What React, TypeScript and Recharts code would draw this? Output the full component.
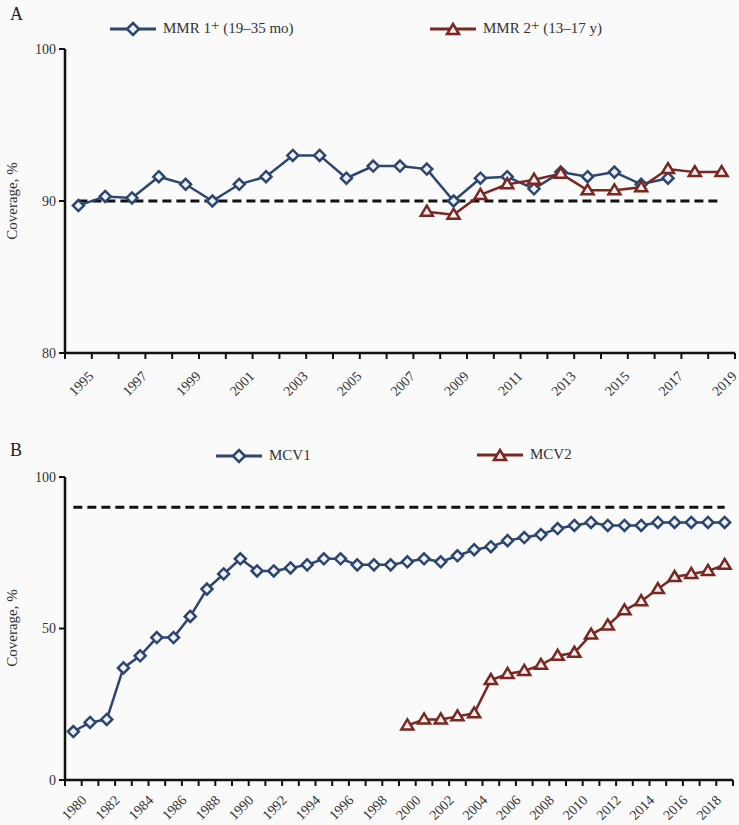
import React from "react";
import { LineChart, Line, XAxis, YAxis, ReferenceLine } from "recharts";

const NAVY = "#2c4571";
const RED = "#7a2621";
const FONT = "'Liberation Serif', 'Times New Roman', serif";

// Panel A: MMR coverage, 1995-2019
const yearsA = [
  "1995", "1996", "1997", "1998", "1999", "2000", "2001", "2002", "2003", "2004",
  "2005", "2006", "2007", "2008", "2009", "2010", "2011", "2012", "2013", "2014",
  "2015", "2016", "2017", "2018", "2019",
];
const mmr1 = [
  89.7, 90.3, 90.2, 91.6, 91.1, 90.0, 91.1, 91.6, 93.0, 93.0,
  91.5, 92.3, 92.3, 92.1, 90.0, 91.5, 91.6, 90.8, 91.9, 91.6,
  91.9, 91.1, 91.5, null, null,
];
const mmr2 = [
  null, null, null, null, null, null, null, null, null, null,
  null, null, null, 89.3, 89.1, 90.4, 91.1, 91.4, 91.8, 90.7,
  90.7, 90.9, 92.1, 91.9, 91.9,
];
const ticksA = [80, 90, 100];

// Panel B: MCV coverage, 1980-2019
const yearsB = [
  "1980", "1981", "1982", "1983", "1984", "1985", "1986", "1987", "1988", "1989",
  "1990", "1991", "1992", "1993", "1994", "1995", "1996", "1997", "1998", "1999",
  "2000", "2001", "2002", "2003", "2004", "2005", "2006", "2007", "2008", "2009",
  "2010", "2011", "2012", "2013", "2014", "2015", "2016", "2017", "2018", "2019",
];
const mcv1 = [
  16, 19, 20, 37, 41, 47, 47, 54, 63, 68,
  73, 69, 69, 70, 71, 73, 73, 71, 71, 71,
  72, 73, 72, 74, 76, 77, 79, 80, 81, 83,
  84, 85, 84, 84, 84, 85, 85, 85, 85, 85,
];
const mcv2 = [
  null, null, null, null, null, null, null, null, null, null,
  null, null, null, null, null, null, null, null, null, null,
  18, 20, 20, 21, 22, 33, 35, 36, 38, 41,
  42, 48, 51, 56, 59, 63, 67, 68, 69, 71,
];
const ticksB = [0, 50, 100];
const GOAL = 90;

const dataA = yearsA.map((year, i) => ({ year, mmr1: mmr1[i], mmr2: mmr2[i] }));
const dataB = yearsB.map((year, i) => ({ year, mcv1: mcv1[i], mcv2: mcv2[i] }));

const W = 739;
const BW_A = 670 / yearsA.length;
const BW_B = 668 / yearsB.length;

const Diamond = (props: any) => {
  const { cx, cy, value } = props;
  if (cx == null || cy == null || value == null) return <g />;
  const r = 5.5;
  return (
    <path
      d={`M${cx},${cy - r}L${cx + r},${cy}L${cx},${cy + r}L${cx - r},${cy}Z`}
      fill="#eef1f6"
      stroke={NAVY}
      strokeWidth={2.5}
    />
  );
};

const Triangle = (props: any) => {
  const { cx, cy, value } = props;
  if (cx == null || cy == null || value == null) return <g />;
  return (
    <path
      d={`M${cx},${cy - 6}L${cx + 6},${cy + 4}L${cx - 6},${cy + 4}Z`}
      fill="#f6eeee"
      stroke={RED}
      strokeWidth={2.5}
    />
  );
};

const makeXTick = (bw: number, count: number, dx: number, dy: number) => (props: any) => {
  const { x, y, payload, index } = props;
  const left = x - bw / 2;
  return (
    <g>
      <line x1={left} x2={left} y1={y} y2={y + 6} stroke="#111" strokeWidth={2} />
      {index === count - 1 && (
        <line x1={x + bw / 2} x2={x + bw / 2} y1={y} y2={y + 6} stroke="#111" strokeWidth={2} />
      )}
      {index % 2 === 0 && (
        <text
          x={x + dx}
          y={y + dy}
          textAnchor="end"
          fontSize={14}
          fontFamily={FONT}
          fill="#333"
          transform={`rotate(-45, ${x + dx}, ${y + dy})`}
        >
          {payload.value}
        </text>
      )}
    </g>
  );
};

const LegendItem = ({ left, top, color, label, shape }: any) => (
  <div style={{ position: "absolute", left, top, display: "flex", alignItems: "center" }}>
    <svg width={48} height={16}>
      <line x1={1} x2={47} y1={8} y2={8} stroke={color} strokeWidth={3} />
      {shape === "diamond" ? (
        <path d="M24,2L30,8L24,14L18,8Z" fill="#eef1f6" stroke={color} strokeWidth={2.5} />
      ) : (
        <path d="M24,3L30,13L18,13Z" fill="#f6eeee" stroke={color} strokeWidth={2.5} />
      )}
    </svg>
    <span style={{ marginLeft: 6, fontSize: 15, color: "#333", whiteSpace: "nowrap" }}>{label}</span>
  </div>
);

const axisTitle = (top: number) => (
  <div
    style={{
      position: "absolute",
      left: 12,
      top,
      transform: "translate(-50%, -50%) rotate(-90deg)",
      fontSize: 15,
      color: "#333",
      whiteSpace: "nowrap",
    }}
  >
    Coverage, %
  </div>
);

const yTick = { fontSize: 14, fill: "#333", fontFamily: FONT };

export default function App() {
  return (
    <div
      style={{
        position: "absolute",
        left: 0,
        top: 0,
        width: W,
        height: 825,
        background: "#fafafa",
        fontFamily: FONT,
      }}
    >
      <div style={{ position: "absolute", left: 10, top: 4, fontSize: 18, color: "#222" }}>A</div>
      <LegendItem
        left={109}
        top={20}
        color={NAVY}
        shape="diamond"
        label={<>MMR 1<span style={{ position: "relative", top: -3 }}>+</span> (19–35 mo)</>}
      />
      <LegendItem
        left={429}
        top={20}
        color={RED}
        shape="triangle"
        label={<>MMR 2<span style={{ position: "relative", top: -3 }}>+</span> (13–17 y)</>}
      />
      {axisTitle(201)}

      <div style={{ position: "absolute", left: 0, top: 0 }}>
        <LineChart width={W} height={430} data={dataA} margin={{ top: 49, right: 4, bottom: 0, left: 0 }}>
          <XAxis
            dataKey="year"
            scale="point"
            padding={{ left: BW_A / 2, right: BW_A / 2 }}
            interval={0}
            height={77}
            tickLine={false}
            tickSize={0}
            tickMargin={0}
            axisLine={{ stroke: "#111", strokeWidth: 2.5 }}
            tick={makeXTick(BW_A, yearsA.length, 16, 24)}
          />
          <YAxis
            width={65}
            domain={[80, 100]}
            ticks={ticksA}
            interval={0}
            axisLine={{ stroke: "#111", strokeWidth: 2.5 }}
            tickLine={{ stroke: "#111", strokeWidth: 2 }}
            tickSize={6}
            tickMargin={3}
            tick={yTick}
          />
          <ReferenceLine
            segment={[{ x: yearsA[0], y: GOAL }, { x: yearsA[yearsA.length - 1], y: GOAL }]}
            stroke="#111"
            strokeWidth={3}
            strokeDasharray="9 5"
          />
          <Line
            dataKey="mmr1"
            stroke={NAVY}
            strokeWidth={2.5}
            dot={Diamond}
            activeDot={false}
            isAnimationActive={false}
          />
          <Line
            dataKey="mmr2"
            stroke={RED}
            strokeWidth={2.5}
            dot={Triangle}
            activeDot={false}
            isAnimationActive={false}
          />
        </LineChart>
      </div>

      <div style={{ position: "absolute", left: 10, top: 440, fontSize: 18, color: "#222" }}>B</div>
      <LegendItem left={215} top={447} color={NAVY} shape="diamond" label="MCV1" />
      <LegendItem left={476} top={446} color={RED} shape="triangle" label="MCV2" />
      {axisTitle(628)}

      <div style={{ position: "absolute", left: 0, top: 430 }}>
        <LineChart width={W} height={395} data={dataB} margin={{ top: 47, right: 6, bottom: 0, left: 0 }}>
          <XAxis
            dataKey="year"
            scale="point"
            padding={{ left: BW_B / 2, right: BW_B / 2 }}
            interval={0}
            height={45}
            tickLine={false}
            tickSize={0}
            tickMargin={0}
            axisLine={{ stroke: "#111", strokeWidth: 2.5 }}
            tick={makeXTick(BW_B, yearsB.length, 14, 21)}
          />
          <YAxis
            width={65}
            domain={[0, 100]}
            ticks={ticksB}
            interval={0}
            axisLine={{ stroke: "#111", strokeWidth: 2.5 }}
            tickLine={{ stroke: "#111", strokeWidth: 2 }}
            tickSize={6}
            tickMargin={3}
            tick={yTick}
          />
          <ReferenceLine
            segment={[{ x: yearsB[0], y: GOAL }, { x: yearsB[yearsB.length - 1], y: GOAL }]}
            stroke="#111"
            strokeWidth={3}
            strokeDasharray="9 5"
          />
          <Line
            dataKey="mcv1"
            stroke={NAVY}
            strokeWidth={2.5}
            dot={Diamond}
            activeDot={false}
            isAnimationActive={false}
          />
          <Line
            dataKey="mcv2"
            stroke={RED}
            strokeWidth={2.5}
            dot={Triangle}
            activeDot={false}
            isAnimationActive={false}
          />
        </LineChart>
      </div>
    </div>
  );
}
